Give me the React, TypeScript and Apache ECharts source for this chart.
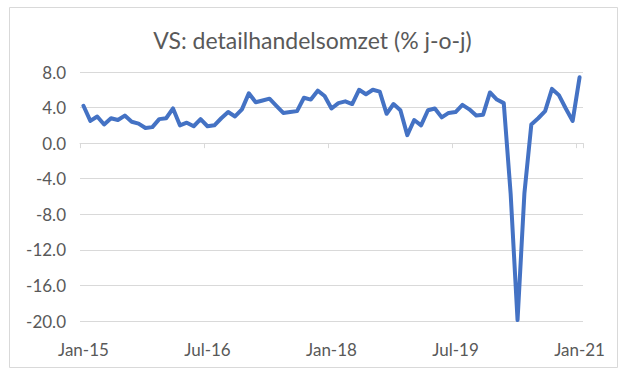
import { useEffect, useRef } from "react";
import * as echarts from "echarts";

const monthNames = ["Jan", "Feb", "Mar", "Apr", "May", "Jun", "Jul", "Aug", "Sep", "Oct", "Nov", "Dec"];
const years = ["15", "16", "17", "18", "19", "20", "21"];
const categories: string[] = [];
years.forEach((y) => monthNames.forEach((m) => categories.push(`${m}-${y}`)));
categories.length = 73; // Jan-15 .. Jan-21

const values = [
  4.2, 2.5, 3.0, 2.1, 2.8, 2.6, 3.1, 2.4, 2.2, 1.7, 1.8, 2.7,
  2.8, 3.9, 2.0, 2.3, 1.9, 2.7, 1.9, 2.0, 2.8, 3.5, 3.0, 3.8,
  5.6, 4.6, 4.8, 5.0, 4.2, 3.4, 3.5, 3.6, 5.1, 4.9, 5.9, 5.3,
  3.9, 4.5, 4.7, 4.4, 6.0, 5.5, 6.0, 5.8, 3.3, 4.4, 3.7, 0.9,
  2.6, 2.0, 3.7, 3.9, 2.9, 3.4, 3.5, 4.3, 3.8, 3.1, 3.2, 5.7,
  4.9, 4.5, -5.7, -19.9, -5.6, 2.1, 2.8, 3.6, 6.1, 5.4, 3.9, 2.5,
  7.4,
];

const yMin = -20;
const yMax = 8;
const yInterval = 4;
const labelEvery = 18;

const title = "VS: detailhandelsomzet (% j-o-j)";

export default function App() {
  const ref = useRef<HTMLDivElement>(null);
  useEffect(() => {
    if (!ref.current) return;
    const chart = echarts.init(ref.current, undefined, { renderer: "svg" });
    const textColor = "#595959";
    const gridColor = "#d9d9d9";
    chart.setOption({
      animation: false,
      backgroundColor: "#ffffff",
      title: {
        text: title,
        left: "center",
        top: 23,
        textStyle: { color: textColor, fontSize: 23, fontWeight: "normal", fontFamily: "Lato" },
      },
      graphic: [
        {
          type: "rect",
          shape: { x: 9.5, y: 7.5, width: 608, height: 360 },
          style: { fill: "none", stroke: gridColor, lineWidth: 1 },
          silent: true,
        },
      ],
      grid: { left: 80, right: 42, top: 72, bottom: 59, containLabel: false },
      xAxis: [
        {
          type: "category",
          data: categories,
          boundaryGap: true,
          position: "bottom",
          axisLine: { show: false, onZero: false },
          axisTick: { show: false },
          splitLine: { show: false },
          axisLabel: {
            interval: labelEvery - 1,
            color: textColor,
            fontSize: 17,
            fontFamily: "Lato",
            margin: 20,
          },
        },
        {
          type: "category",
          data: categories,
          boundaryGap: true,
          position: "bottom",
          axisLine: { show: true, onZero: true, lineStyle: { color: gridColor, width: 1 } },
          axisTick: { show: true, interval: labelEvery - 1, length: 5, inside: false, lineStyle: { color: gridColor, width: 1 } },
          axisLabel: { show: false },
          splitLine: { show: false },
        },
      ],
      yAxis: {
        type: "value",
        min: yMin,
        max: yMax,
        interval: yInterval,
        axisLine: { show: false },
        axisTick: { show: false },
        splitLine: { show: true, lineStyle: { color: gridColor, width: 1 } },
        axisLabel: {
          color: textColor,
          fontSize: 17,
          fontFamily: "Lato",
          margin: 14,
          formatter: (v: number) => v.toFixed(1),
        },
      },
      series: [
        {
          type: "line",
          xAxisIndex: 0,
          data: values,
          showSymbol: false,
          symbol: "none",
          smooth: false,
          lineStyle: { color: "#4472C4", width: 4, join: "round", cap: "round" },
          itemStyle: { color: "#4472C4" },
        },
      ],
    });
    return () => chart.dispose();
  }, []);
  return (
    <div
      ref={ref}
      style={{ position: "fixed", left: 0, top: 0, width: 625, height: 380, background: "#fff" }}
    />
  );
}
